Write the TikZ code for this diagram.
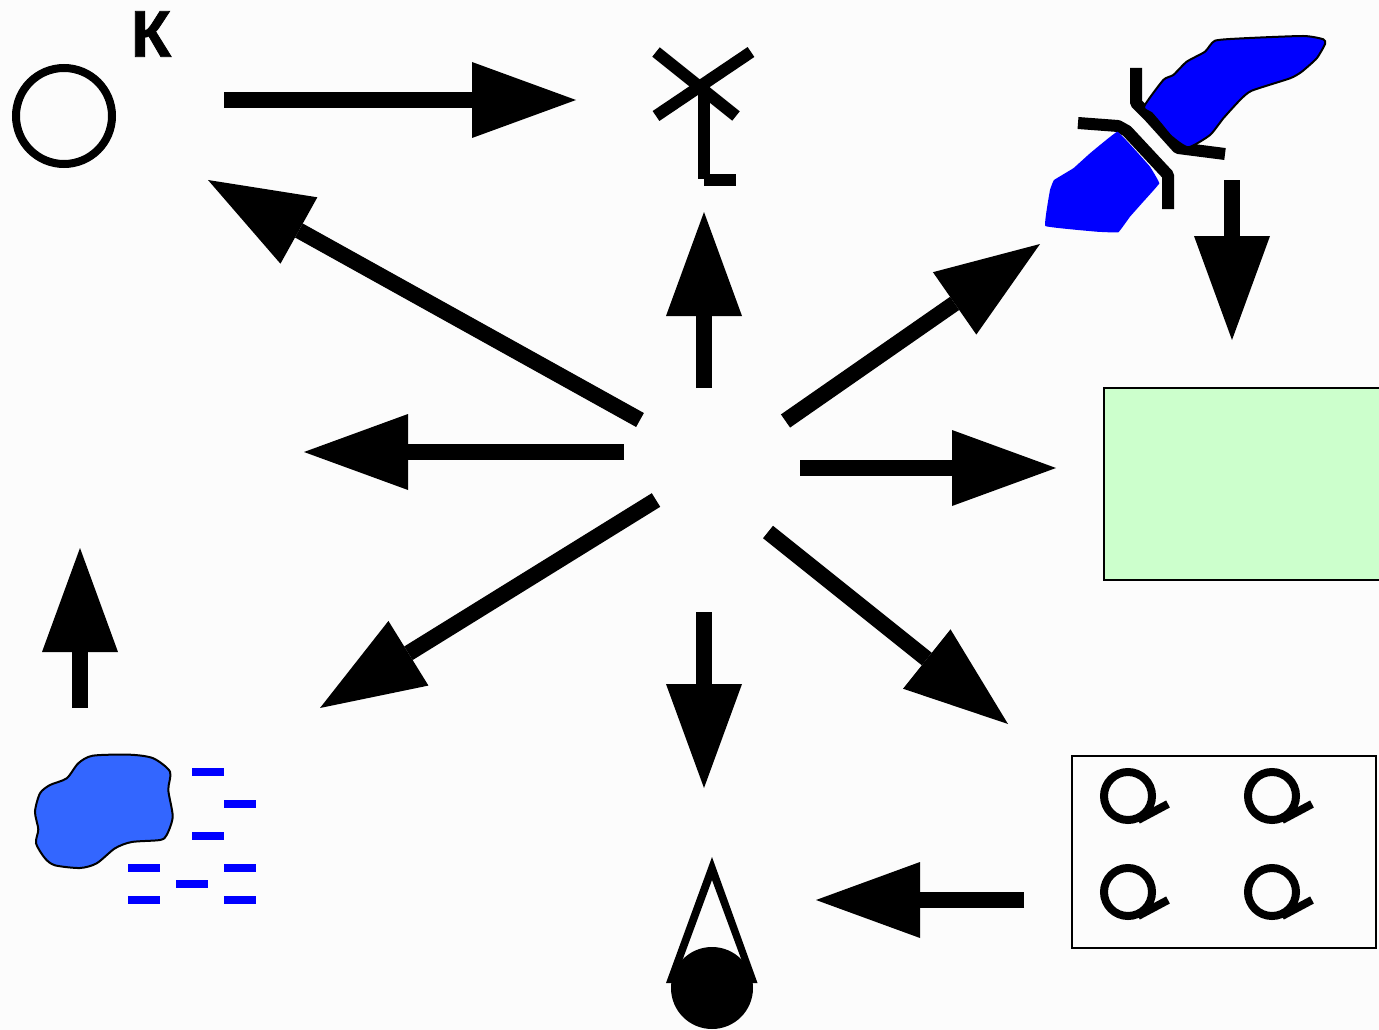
\documentclass[tikz,border=0pt]{standalone}
\usepackage{fontspec}
\usetikzlibrary{arrows.meta}
\newfontfamily\labelfont[BoldFeatures={FakeBold=1.2}]{Liberation Sans}
\definecolor{bgc}{HTML}{FCFCFC}
\definecolor{pale}{HTML}{CCFFCC}
\definecolor{blobblue}{HTML}{3366FF}
\tikzset{
 bigarrow/.style={line width=16pt,-{Triangle[length=104pt,width=76pt,line width=0pt]}},
 icon/.style={line width=12pt,line cap=butt,miter limit=10},
 dashbar/.style={fill=blue,draw=none,inner sep=0pt,outer sep=0pt,minimum width=32pt,minimum height=8pt,anchor=north west,shape=rectangle},
 ring/.style={circle,draw=black,line width=8pt,inner sep=0pt,outer sep=0pt,minimum size=48pt},
 tail/.style={line width=8pt},
 panel/.style={draw=black,line width=2pt,inner sep=0pt,outer sep=0pt,anchor=north west},
}
\begin{document}
\begin{tikzpicture}[x=1pt,y=-1pt]
\useasboundingbox (0,0) rectangle (1379,1030);
\fill[bgc] (0,0) rectangle (1379,1030);
% K
\node[ring,minimum size=96pt] (kring) at (64,116) {};
\node[anchor=center,inner sep=0pt,font=\labelfont\bfseries\fontsize{66pt}{66pt}\selectfont] (klabel) at (151,34) {К};
% windmill
\draw[icon] (656,52) -- (736,116);
\draw[icon] (751,52) -- (656,116);
\draw[icon] (704,84) -- (704,179);
\draw[icon] (704,180) -- (736,180);
% valve + blue
\draw[icon,line join=round] (1136,68) -- (1136,103) -- (1150,117) -- (1178,148) -- (1225,154);
\draw[icon,line join=round] (1078,123) -- (1118,126) -- (1127,131) -- (1168,175) -- (1168,209);
\fill[blue] plot[smooth cycle,tension=0.12] coordinates {(1045.3,226) (1050,190) (1054,180) (1073.3,168.3) (1090,153.3) (1117.3,131.7) (1136.7,151.7) (1150,166.7) (1159.3,183.3) (1143.3,201.7) (1130,216.7) (1118.3,232.3) (1096.7,231.7)};
\filldraw[draw=black,fill=blue,line width=2pt] plot[smooth cycle,tension=0.35] coordinates {(1144,106.7) (1163.3,80) (1173.3,75) (1186.7,61.7) (1205,51.7) (1215,40.7) (1243.3,38.3) (1303.3,36) (1323.3,39.3) (1325,44) (1316.7,58.3) (1301.7,71.7) (1290,78.3) (1251.7,90.7) (1240,100) (1223.3,118.3) (1210,135) (1188.3,147.3) (1171.7,136.7) (1161.7,125) (1151.7,113.3)};
% green
\node[panel,fill=pale,minimum width=280pt,minimum height=192pt] (greenbox) at (1104,388) {};
% box with rings
\node[panel,minimum width=304pt,minimum height=192pt] (ringbox) at (1072,756) {};
\node[ring] (q1) at (1128,796) {};
\node[ring] (q2) at (1272,796) {};
\node[ring] (q3) at (1128,892) {};
\node[ring] (q4) at (1272,892) {};
\draw[tail] (1138,820) -- (1168,804);
\draw[tail] (1282,820) -- (1312,804);
\draw[tail] (1138,916) -- (1168,900);
\draw[tail] (1282,916) -- (1312,900);
% bottom cone
\fill[black,even odd rule] (712,857) -- (757.5,983) -- (666,983) -- cycle (712,880) -- (750,983) -- (674,983) -- cycle;
\node[circle,fill=black,inner sep=0pt,outer sep=0pt,minimum size=82pt] (ball) at (712,988) {};
% blob
\filldraw[draw=black,fill=blobblue,line width=2pt] plot[smooth cycle,tension=0.45] coordinates {(92.7,755.7) (130,754.7) (153.3,758.3) (170,771.7) (168.3,790) (172.7,816.7) (166.7,835) (160,840) (131.7,842) (115,848.3) (96.7,863.3) (80,868) (55,865.3) (45,858.3) (36,843.3) (38.3,829.3) (35,811.7) (40,793.3) (50,785) (66.7,778.3) (78.3,763.3)};
\node[dashbar] (d1) at (192,768) {};
\node[dashbar] (d2) at (224,800) {};
\node[dashbar] (d3) at (192,832) {};
\node[dashbar] (d4) at (128,864) {};
\node[dashbar] (d5) at (224,864) {};
\node[dashbar] (d6) at (176,880) {};
\node[dashbar] (d7) at (128,896) {};
\node[dashbar] (d8) at (224,896) {};
% arrow ends
\coordinate (a1s) at (224,100); \coordinate (a1e) at (576,100);
\coordinate (a2s) at (704,388); \coordinate (a2e) at (704,212);
\coordinate (a3s) at (785.5,421); \coordinate (a3e) at (1040,244);
\coordinate (a4s) at (1232,180); \coordinate (a4e) at (1232,340);
\coordinate (a5s) at (800,468); \coordinate (a5e) at (1056,468);
\coordinate (a6s) at (768,532); \coordinate (a6e) at (1008,724);
\coordinate (a7s) at (704,612); \coordinate (a7e) at (704,788);
\coordinate (a8s) at (1024,900); \coordinate (a8e) at (816,900);
\coordinate (a9s) at (656,500); \coordinate (a9e) at (320,708);
\coordinate (a10s) at (624,452); \coordinate (a10e) at (304,452);
\coordinate (a11s) at (80,708); \coordinate (a11e) at (80,548);
\coordinate (a12s) at (640,420); \coordinate (a12e) at (208,180);
\foreach \n in {1,...,12} {\draw[bigarrow] (a\n s) -- (a\n e);}
\end{tikzpicture}
\end{document}
